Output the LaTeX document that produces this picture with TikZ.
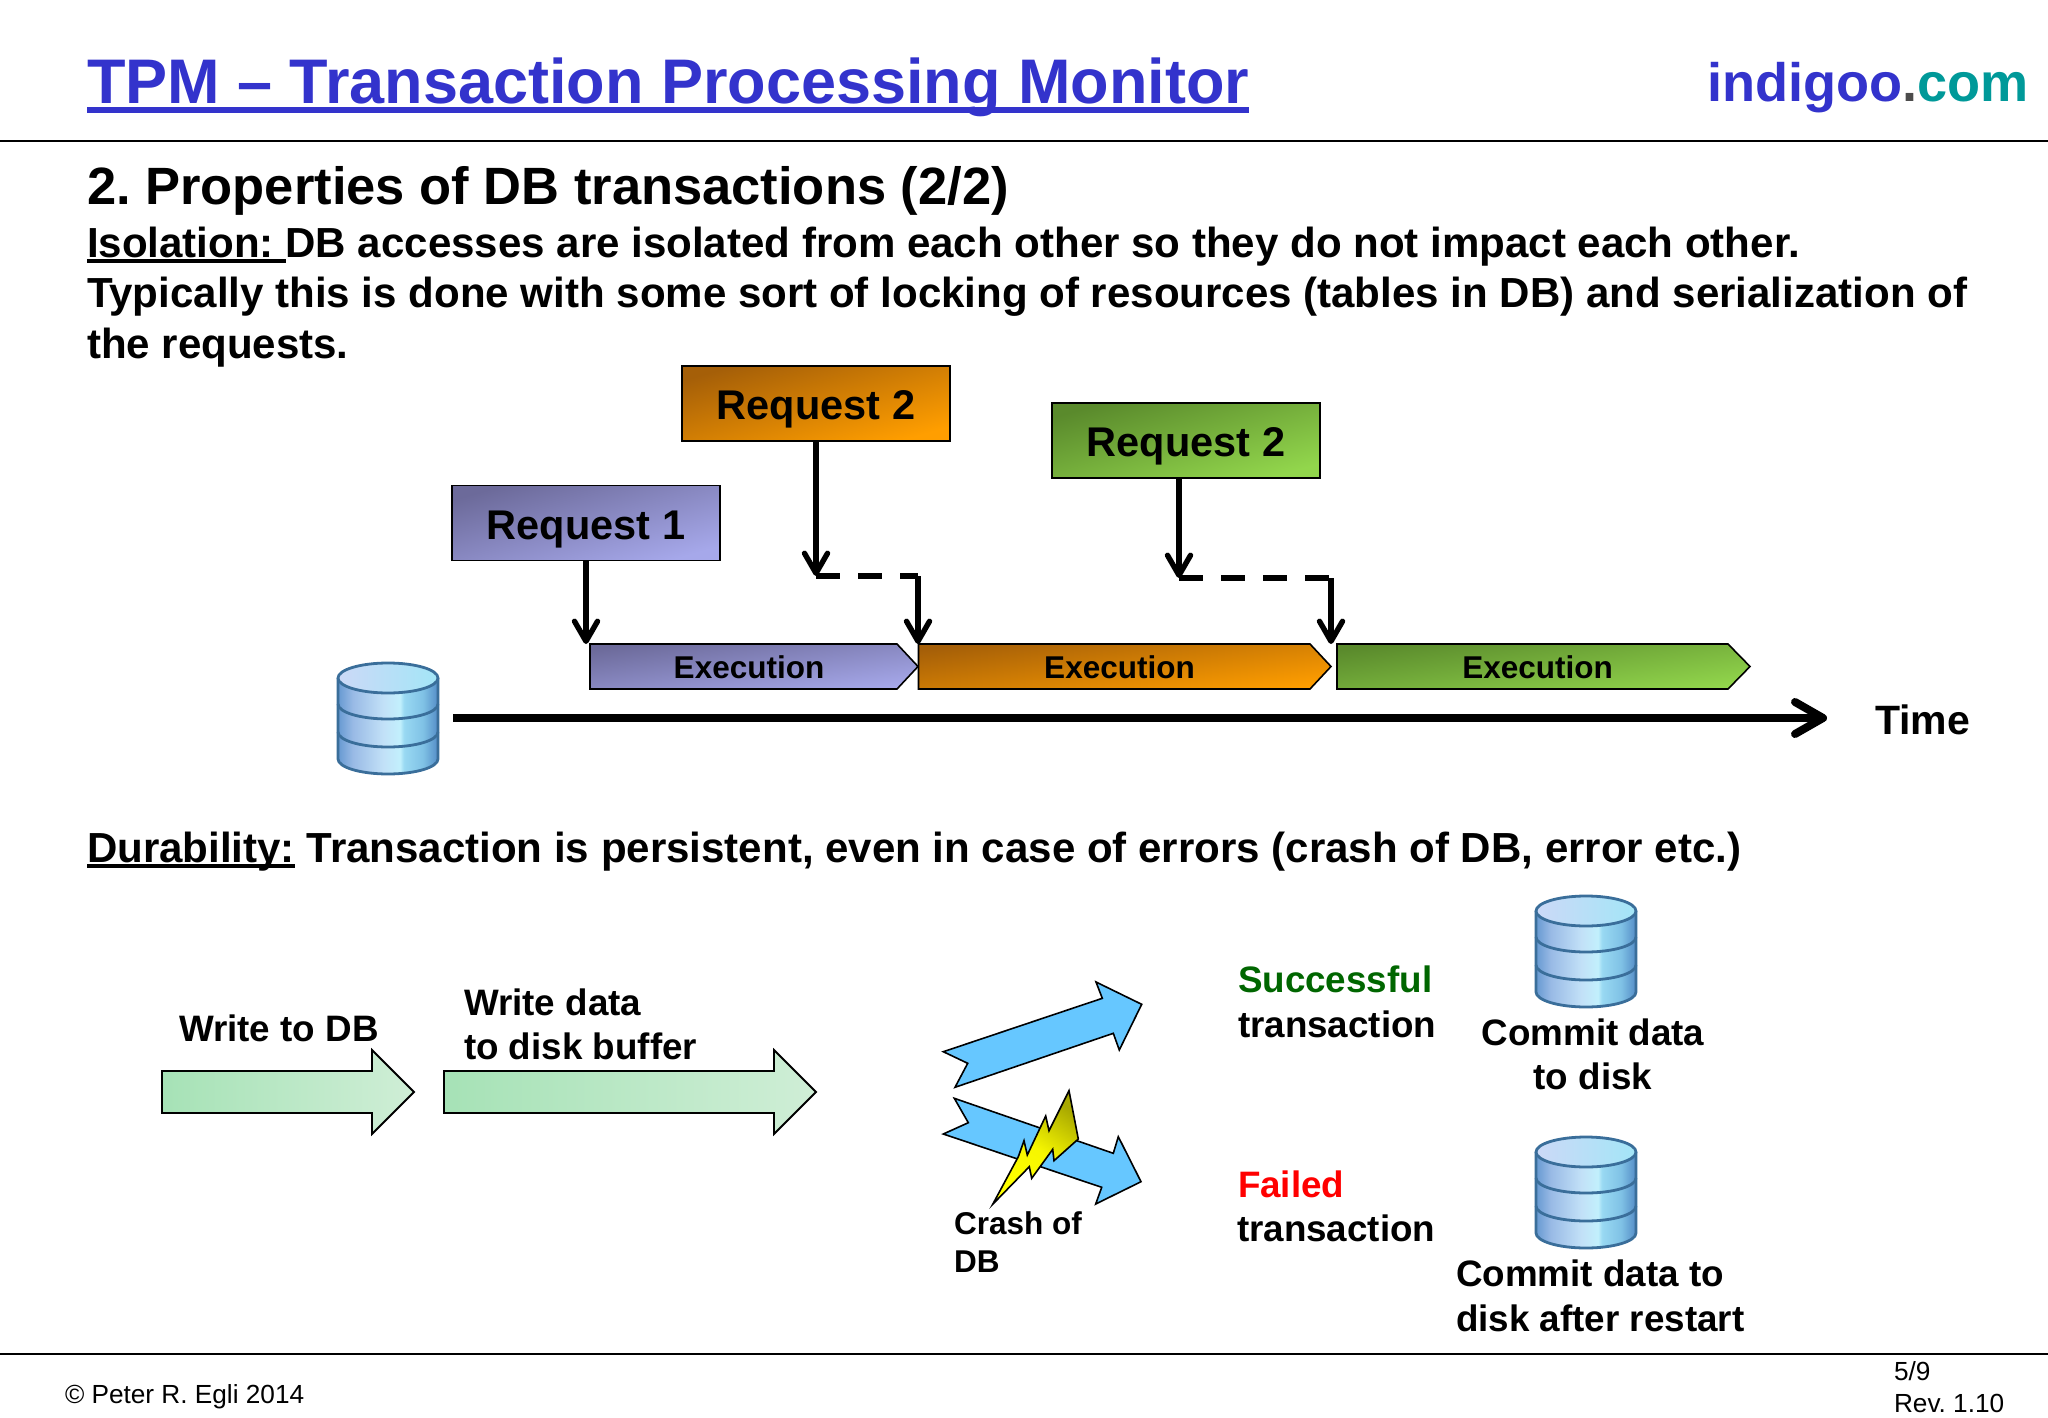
\documentclass[tikz,border=0pt]{standalone}
\usepackage{fontspec}
\setmainfont{Liberation Sans}
\usetikzlibrary{arrows.meta}
\definecolor{tblue}{HTML}{3333CC}
\definecolor{tteal}{HTML}{009999}
\definecolor{dgreen}{HTML}{006600}
\definecolor{hdark}{HTML}{6C6A9A}
\definecolor{hlight}{HTML}{A6A8EA}
\definecolor{odark}{HTML}{A55F08}
\definecolor{olight}{HTML}{FF9E00}
\definecolor{gdark}{HTML}{5A8A2C}
\definecolor{glight}{HTML}{92D64C}
\definecolor{aleft}{HTML}{A6E2B6}
\definecolor{aright}{HTML}{CFEED6}
\definecolor{skyb}{HTML}{66C7FF}
\definecolor{dbline}{HTML}{3A6E9A}
\definecolor{olive}{HTML}{A8A800}
\pgfdeclarehorizontalshading{dbbody}{100bp}{rgb(0bp)=(0.40,0.60,0.82);
 rgb(25bp)=(0.40,0.60,0.82);rgb(32.5bp)=(0.60,0.73,0.90);rgb(47.5bp)=(0.76,0.88,0.97);rgb(56bp)=(0.76,0.94,0.99);rgb(58bp)=(0.60,0.85,0.95);rgb(67.5bp)=(0.50,0.76,0.90);rgb(75bp)=(0.33,0.55,0.78);rgb(100bp)=(0.33,0.55,0.78)}
\pgfdeclarehorizontalshading{dbtop}{100bp}{rgb(0bp)=(0.80,0.85,0.97);rgb(25bp)=(0.80,0.85,0.97);rgb(75bp)=(0.64,0.90,0.97);rgb(100bp)=(0.64,0.90,0.97)}
\newcommand{\ulbox}[1]{\setbox0=\hbox{#1}\rlap{\rule[-.14em]{\wd0}{.085em}}\box0\relax}
\newcommand{\fs}[1]{\fontsize{#1}{#1}\selectfont\frenchspacing}
\tikzset{
 txt/.style={inner sep=0pt,outer sep=0pt,anchor=base west,text=black},
 titlef/.style={txt,font=\fs{63}\bfseries},
 headf/.style={txt,font=\fs{52.5}\bfseries},
 bodyf/.style={txt,font=\fs{42.05}\bfseries},
 labf/.style={txt,font=\fs{36.8}\bfseries},
 crashf/.style={txt,font=\fs{31.5}\bfseries},
 footf/.style={txt,font=\fs{26.2}},
 reqbox/.style={draw=black,line width=1.6pt,minimum width=268pt,minimum height=75pt,inner sep=0pt,outer sep=0pt,font=\fs{41.5}\bfseries,text height=32pt,text depth=0pt},
 exectxt/.style={inner sep=0pt,outer sep=0pt,font=\fs{31.5}\bfseries,minimum height=45pt},
 violetg/.style={top color=hdark,bottom color=hlight,shading angle=#1},
 orangeg/.style={top color=odark,bottom color=olight,shading angle=#1},
 greeng/.style={top color=gdark,bottom color=glight,shading angle=#1},
 execshape/.style={draw=black,line width=1.6pt,line join=miter},
 conn/.style={draw=black,line width=5.4pt,-{Straight Barb[length=20pt,width=23pt,round]}},
 dashc/.style={draw=black,line width=5.4pt,dash pattern=on 24pt off 18pt},
 green arrow/.style={draw=black,line width=1.8pt,left color=aleft,right color=aright,line join=miter},
 sky/.style={draw=black,line width=1.6pt,fill=skyb,line join=miter},
 dbcyl/.pic={
  \path[shading=dbbody] (0,15) -- (0,96) arc[start angle=180,end angle=360,x radius=50pt,y radius=15pt] -- (100,15) arc[start angle=0,end angle=180,x radius=50pt,y radius=15pt] -- cycle;
  \draw[dbline,line width=2.8pt] (0,15) -- (0,96) arc[start angle=180,end angle=360,x radius=50pt,y radius=15pt] -- (100,15);
  \draw[dbline,line width=2.8pt] (0,41) arc[start angle=180,end angle=360,x radius=50pt,y radius=15pt];
  \draw[dbline,line width=2.8pt] (0,69) arc[start angle=180,end angle=360,x radius=50pt,y radius=15pt];
  \draw[dbline,line width=2.8pt,shading=dbtop] (50,15) ellipse[x radius=50pt,y radius=15pt];
 }
}
\begin{document}
\begin{tikzpicture}[x=1pt,y=-1pt]
\useasboundingbox (0,0) rectangle (2048,1418);
\fill[white] (0,0) rectangle (2048,1418);
% header
\node[titlef,text=tblue] (title) at (87,104) {\ulbox{TPM – Transaction Processing Monitor}};
\node[txt,font=\fs{54.1}\bfseries] (brand) at (1707,102) {\textcolor{tblue}{indigoo}\textcolor{black!70}{.}\textcolor{tteal}{com}};
\draw[black,line width=1.6pt] (0,141) coordinate (hl) -- (2048,141) coordinate (hr);
\draw[black,line width=1.6pt] (0,1354) coordinate (fl) -- (2048,1354) coordinate (fr);
% text
\node[headf] (head) at (87,204) {2. Properties of DB transactions (2/2)};
\node[bodyf] (iso1) at (87,257) {\ulbox{Isolation:\ }DB accesses are isolated from each other so they do not impact each other.};
\node[bodyf] (iso2) at (87,307) {Typically this is done with some sort of locking of resources (tables in DB) and serialization of};
\node[bodyf] (iso3) at (87,358) {the requests.};
\node[bodyf] (dur) at (87,862) {\ulbox{Durability:} Transaction is persistent, even in case of errors (crash of DB, error etc.)};
% requests
\node[reqbox,violetg=16] (r1) at (586,523) {Request 1};
\node[reqbox,orangeg=16] (r2) at (816,403.5) {Request 2};
\node[reqbox,greeng=16] (r3) at (1186,440.5) {Request 2};
% execution
\filldraw[execshape,violetg=8] (590,644) -- (897,644) -- (918,666.5) -- (897,689) -- (590,689) -- cycle;
\filldraw[execshape,orangeg=8] (918.5,644) -- (1310,644) -- (1331,666.5) -- (1310,689) -- (918.5,689) -- cycle;
\filldraw[execshape,greeng=8] (1337,644) -- (1728,644) -- (1750,666.5) -- (1728,689) -- (1337,689) -- cycle;
\node[exectxt] (e1) at (749,667) {Execution};
\node[exectxt] (e2) at (1119.5,667) {Execution};
\node[exectxt] (e3) at (1537.5,667) {Execution};
\coordinate (e1in) at (586,644);
\coordinate (e2in) at (918,644);
\coordinate (e3in) at (1331,644);
\coordinate (w2) at (816,576);
\coordinate (w3) at (1179,578);
% connectors
\draw[conn] (r1.south) -- (e1in);
\draw[conn] (r2.south) -- (w2);
\draw[dashc] (w2) -- (w2 -| e2in);
\draw[conn] (w2 -| e2in) -- (e2in);
\draw[conn] (w3 |- r3.south) -- (w3);
\draw[dashc] (w3) -- (w3 -| e3in);
\draw[conn] (w3 -| e3in) -- (e3in);
% time axis
\pic at (338,663) {dbcyl};
\coordinate (t0) at (453,718);
\coordinate (t1) at (1827,718);
\draw[black,line width=8pt,-{Straight Barb[length=28pt,width=32pt,round]}] (t0) -- (t1);
\node[txt,font=\fs{41}\bfseries] (time) at (1875,734) {Time};
% green arrows
\filldraw[green arrow] (162,1071) -- (372,1071) -- (372,1050) -- (414,1092) -- (372,1134) -- (372,1113) -- (162,1113) -- cycle;
\filldraw[green arrow] (444,1071) -- (774,1071) -- (774,1050) -- (816,1092) -- (774,1134) -- (774,1113) -- (444,1113) -- cycle;
\node[labf] (l1) at (179,1041) {Write to DB};
\node[labf] (l2) at (464,1015) {Write data};
\node[labf] (l3) at (464,1059) {to disk buffer};
% sky arrows
\filldraw[sky] (943.3,1051.7) -- (967.7,1063.3) -- (955,1087.3) -- (1113.3,1033.3) -- (1119.3,1050) -- (1141.7,1004.3) -- (1096,982) -- (1102.3,998.3) -- cycle;
\filldraw[sky] (954.3,1098.3) -- (968.3,1122.7) -- (943.3,1134) -- (1101.7,1187.3) -- (1095.7,1204) -- (1141,1181.7) -- (1118.3,1136.7) -- (1113.3,1153.3) -- cycle;
% bolt
\filldraw[draw=black,line width=1.6pt,line join=miter,top color=olive,bottom color=yellow,middle color=yellow!90!olive,shading angle=-35] (1069,1090.7) -- (1078.3,1139) -- (1054,1160.7) -- (1052.7,1149.3) -- (1031.7,1178.3) -- (1029.3,1166.7) -- (992.7,1204.3) -- (1018.3,1156.7) -- (1024,1140.7) -- (1027.3,1155) -- (1045.7,1116) -- (1049,1130.7) -- cycle;
\node[crashf] (c1) at (954,1234) {Crash of};
\node[crashf] (c2) at (954,1272) {DB};
% outcomes
\node[labf,text=dgreen] (s1) at (1238,992) {Successful};
\node[labf] (s2) at (1238,1037) {transaction};
\node[labf,text=red] (f1) at (1238,1197) {Failed};
\node[labf] (f2) at (1237,1241) {transaction};
\pic at (1536,896) {dbcyl};
\pic at (1536,1137) {dbcyl};
\node[labf,anchor=base] (d1) at (1593,1045) {Commit data};
\node[labf,anchor=base] (d2) at (1593,1089) {to disk};
\node[labf] (d3) at (1456,1286) {Commit data to};
\node[labf] (d4) at (1456,1331) {disk after restart};
% footer
\node[footf] (foot) at (65,1403) {© Peter R. Egli 2014};
\node[footf] (pg) at (1894,1380) {5/9};
\node[footf] (rev) at (1894,1412) {Rev. 1.10};
\end{tikzpicture}
\end{document}
